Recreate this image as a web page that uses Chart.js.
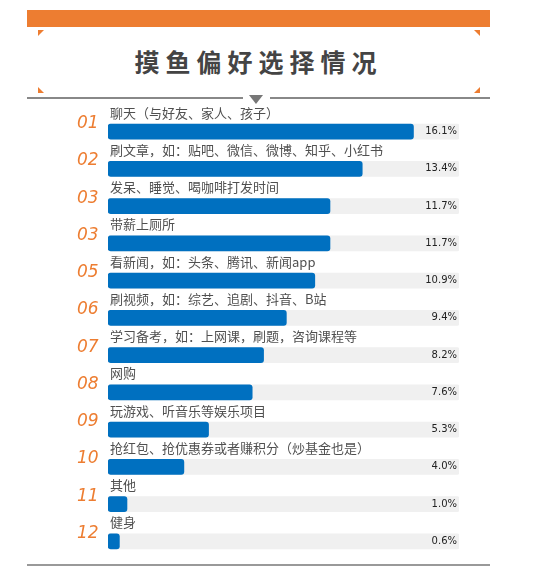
<!DOCTYPE html>
<html lang="zh">
<head>
<meta charset="UTF-8">
<title>摸鱼偏好选择情况</title>
<script src="https://cdn.jsdelivr.net/npm/chart.js"></script>
<style>
  body { margin: 0; background: #fff; font-family: "Noto Sans CJK SC", sans-serif; }
  #wrap { position: relative; width: 551px; height: 567px; overflow: hidden; }
  .topbar { position: absolute; left: 27px; top: 10px; width: 463px; height: 17px; background: #ED7D31; }
  .corner { position: absolute; width: 0; height: 0; }
  .title { position: absolute; left: 27px; width: 463px; top: 43px; text-align: center;
           font-size: 25px; font-weight: bold; color: #444; letter-spacing: 6px; }
  .line { position: absolute; top: 97px; height: 2px; background: #888; }
  .tri { position: absolute; left: 249px; top: 95px; width: 0; height: 0;
         border-left: 7px solid transparent; border-right: 7px solid transparent; border-top: 9px solid #777; }
  .bottom { position: absolute; left: 27px; width: 463px; top: 564px; height: 2px; background: #999; }
  #c { position: absolute; left: 0; top: 100px; }
</style>
</head>
<body>
<div id="wrap">
  <div class="topbar"></div>
  <div class="corner" style="left:38px;top:30px;border-top:6px solid #ED7D31;border-right:6px solid transparent;"></div>
  <div class="corner" style="left:474px;top:30px;border-top:6px solid #ED7D31;border-left:6px solid transparent;"></div>
  <div class="corner" style="left:38px;top:87px;border-bottom:6px solid #ED7D31;border-right:6px solid transparent;"></div>
  <div class="corner" style="left:474px;top:87px;border-bottom:6px solid #ED7D31;border-left:6px solid transparent;"></div>
  <div class="title">摸鱼偏好选择情况</div>
  <div class="line" style="left:27px;width:216px;"></div>
  <div class="line" style="left:270px;width:220px;"></div>
  <div class="tri"></div>
  <div class="bottom"></div>
  <canvas id="c" width="551" height="467"></canvas>
</div>
<script>
// data
const ranks = ['01', '02', '03', '03', '05', '06', '07', '08', '09', '10', '11', '12'];
const categories = [
  '聊天（与好友、家人、孩子）',
  '刷文章，如：贴吧、微信、微博、知乎、小红书',
  '发呆、睡觉、喝咖啡打发时间',
  '带薪上厕所',
  '看新闻，如：头条、腾讯、新闻app',
  '刷视频，如：综艺、追剧、抖音、B站',
  '学习备考，如：上网课，刷题，咨询课程等',
  '网购',
  '玩游戏、听音乐等娱乐项目',
  '抢红包、抢优惠券或者赚积分（炒基金也是）',
  '其他',
  '健身'
];
const values = [16.1, 13.4, 11.7, 11.7, 10.9, 9.4, 8.2, 7.6, 5.3, 4.0, 1.0, 0.6];
const axisMax = 18.5;

const labelsPlugin = {
  id: 'rowLabels',
  afterDatasetsDraw(chart) {
    const ctx = chart.ctx;
    const meta = chart.getDatasetMeta(1);
    const right = chart.chartArea.right;
    ctx.save();
    meta.data.forEach((bar, i) => {
      const y = bar.y;
      ctx.textBaseline = 'middle';
      ctx.fillStyle = '#505050';
      ctx.textAlign = 'left';
      ctx.font = '13px "Noto Sans CJK SC"';
      ctx.fillText(categories[i], 110, y - 19);
      ctx.fillStyle = '#ED7D31';
      ctx.font = 'italic 17px "DejaVu Sans"';
      ctx.fillText(ranks[i], 77, y - 8);
      ctx.fillStyle = '#222';
      ctx.textAlign = 'right';
      ctx.font = '10px "DejaVu Sans"';
      ctx.fillText(values[i].toFixed(1) + '%', right - 2, y);
    });
    ctx.restore();
  }
};

new Chart(document.getElementById('c'), {
  type: 'bar',
  data: {
    labels: categories,
    datasets: [
      { data: values.map(() => axisMax), backgroundColor: '#F0F0F0', barThickness: 15, borderRadius: 2, borderSkipped: false, grouped: false, order: 2 },
      { data: values, backgroundColor: '#0070C0', barThickness: 15, borderRadius: 3, borderSkipped: false, grouped: false, order: 1 }
    ]
  },
  options: {
    indexAxis: 'y',
    responsive: false,
    animation: false,
    layout: { padding: { left: 108, right: 92, top: 13, bottom: 7 } },
    plugins: { legend: { display: false }, tooltip: { enabled: false } },
    scales: {
      x: { display: false, min: 0, max: axisMax },
      y: { display: false }
    }
  },
  plugins: [labelsPlugin]
});
</script>
</body>
</html>
